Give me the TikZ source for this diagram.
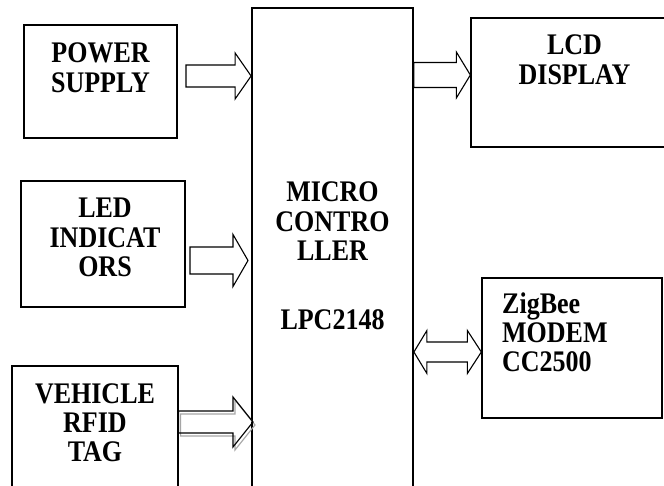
\documentclass[tikz,border=0pt]{standalone}
\usepackage{fontspec}
\setmainfont{Liberation Serif}
\usepackage{graphicx}
\usetikzlibrary{calc,fit}
\newcommand\clines[1]{\scalebox{1}[1.15]{\begin{tabular}[t]{@{}c@{}}#1\end{tabular}}}
\newcommand\llines[1]{\scalebox{1}[1.15]{\begin{tabular}[t]{@{}l@{}}#1\end{tabular}}}
% #1 tail, #2 tip, #3 shaft half, #4 head half, #5 head length, #6 style
\newcommand\fatarrow[6]{%
  \draw[#6] ($(#1)+(0,#3)$) -- ($(#2)+(-#5,#3)$) -- ($(#2)+(-#5,#4)$) -- (#2)
    -- ($(#2)+(-#5,-#4)$) -- ($(#2)+(-#5,-#3)$) -- ($(#1)+(0,-#3)$) -- cycle;}
\begin{document}
\begin{tikzpicture}[x=1pt,y=-1pt,
  blk/.style={draw, line width=1.3pt, inner sep=0pt},
  mcblk/.style={draw, line width=1.8pt, inner sep=0pt},
  txt/.style={inner sep=0pt, font=\bfseries\fontsize{26}{25.6}\selectfont},
  fat/.style={draw, line width=1.1pt, line join=miter},
  fatshadow/.style={draw=black!35, line width=1.1pt, line join=miter}]
\clip (0,0) rectangle (664,486);
\fill[white] (0,0) rectangle (664,486);
% boxes
\node[blk, fit={(24,25) (177,138)}] (ps) {};
\node[blk, fit={(471,18) (680,147)}] (lcd) {};
\node[blk, fit={(21,181) (185,307)}] (led) {};
\node[blk, fit={(12,366) (178,520)}] (vt) {};
\node[blk, fit={(482,278) (662,418)}] (zb) {};
\node[mcblk, fit={(252,8) (413,520)}] (mc) {};
% texts
\node[txt, anchor=base] (pst) at (100.5,63) {\clines{POWER\\SUPPLY}};
\node[txt, anchor=base] (lcdt) at (574.5,55) {\clines{LCD\\DISPLAY}};
\node[txt, anchor=base] (ledt) at (105,218) {\clines{LED\\INDICAT\\ORS}};
\node[txt, anchor=base] (vtt) at (95,403) {\clines{VEHICLE\\RFID\\TAG}};
\node[txt, anchor=base west] (zbt) at (502,313) {\llines{ZigBee\\MODEM\\CC2500}};
\node[txt, anchor=base] (mct) at (332.5,202) {\clines{MICRO\\CONTRO\\LLER\\[8.6pt]\\LPC2148}};
% arrow end points
\coordinate (pwA) at (186,76);
\coordinate (pwB) at (mc.west |- pwA);
\coordinate (ledA) at (190,260.5);
\coordinate (ledB) at (248,260.5);
\coordinate (vtA) at (vt.east |- 0,422);
\coordinate (vtB) at (253,422);
\coordinate (vtAs) at ($(vtA)+(2,3)$);
\coordinate (vtBs) at ($(vtB)+(2,3)$);
\coordinate (lcdA) at (mc.east |- 0,75);
\coordinate (lcdB) at (lcd.west |- lcdA);
\coordinate (zbA) at (mc.east |- 0,352);
\coordinate (zbB) at (zb.west |- zbA);
% arrows
\fatarrow{pwA}{pwB}{11}{23}{16}{fat}
\fatarrow{ledA}{ledB}{13.5}{26}{15}{fat}
\fatarrow{vtAs}{vtBs}{11}{25}{20}{fatshadow}
\fatarrow{vtA}{vtB}{11}{25}{20}{fat}
\fatarrow{lcdA}{lcdB}{12.5}{23}{14}{fat}
\draw[fat] (zbA) -- ($(zbA)+(13,-21.5)$) -- ($(zbA)+(13,-10)$) -- ($(zbB)+(-14,-10)$)
  -- ($(zbB)+(-14,-21.5)$) -- (zbB) -- ($(zbB)+(-14,21.5)$) -- ($(zbB)+(-14,10)$)
  -- ($(zbA)+(13,10)$) -- ($(zbA)+(13,21.5)$) -- cycle;
\end{tikzpicture}
\end{document}
